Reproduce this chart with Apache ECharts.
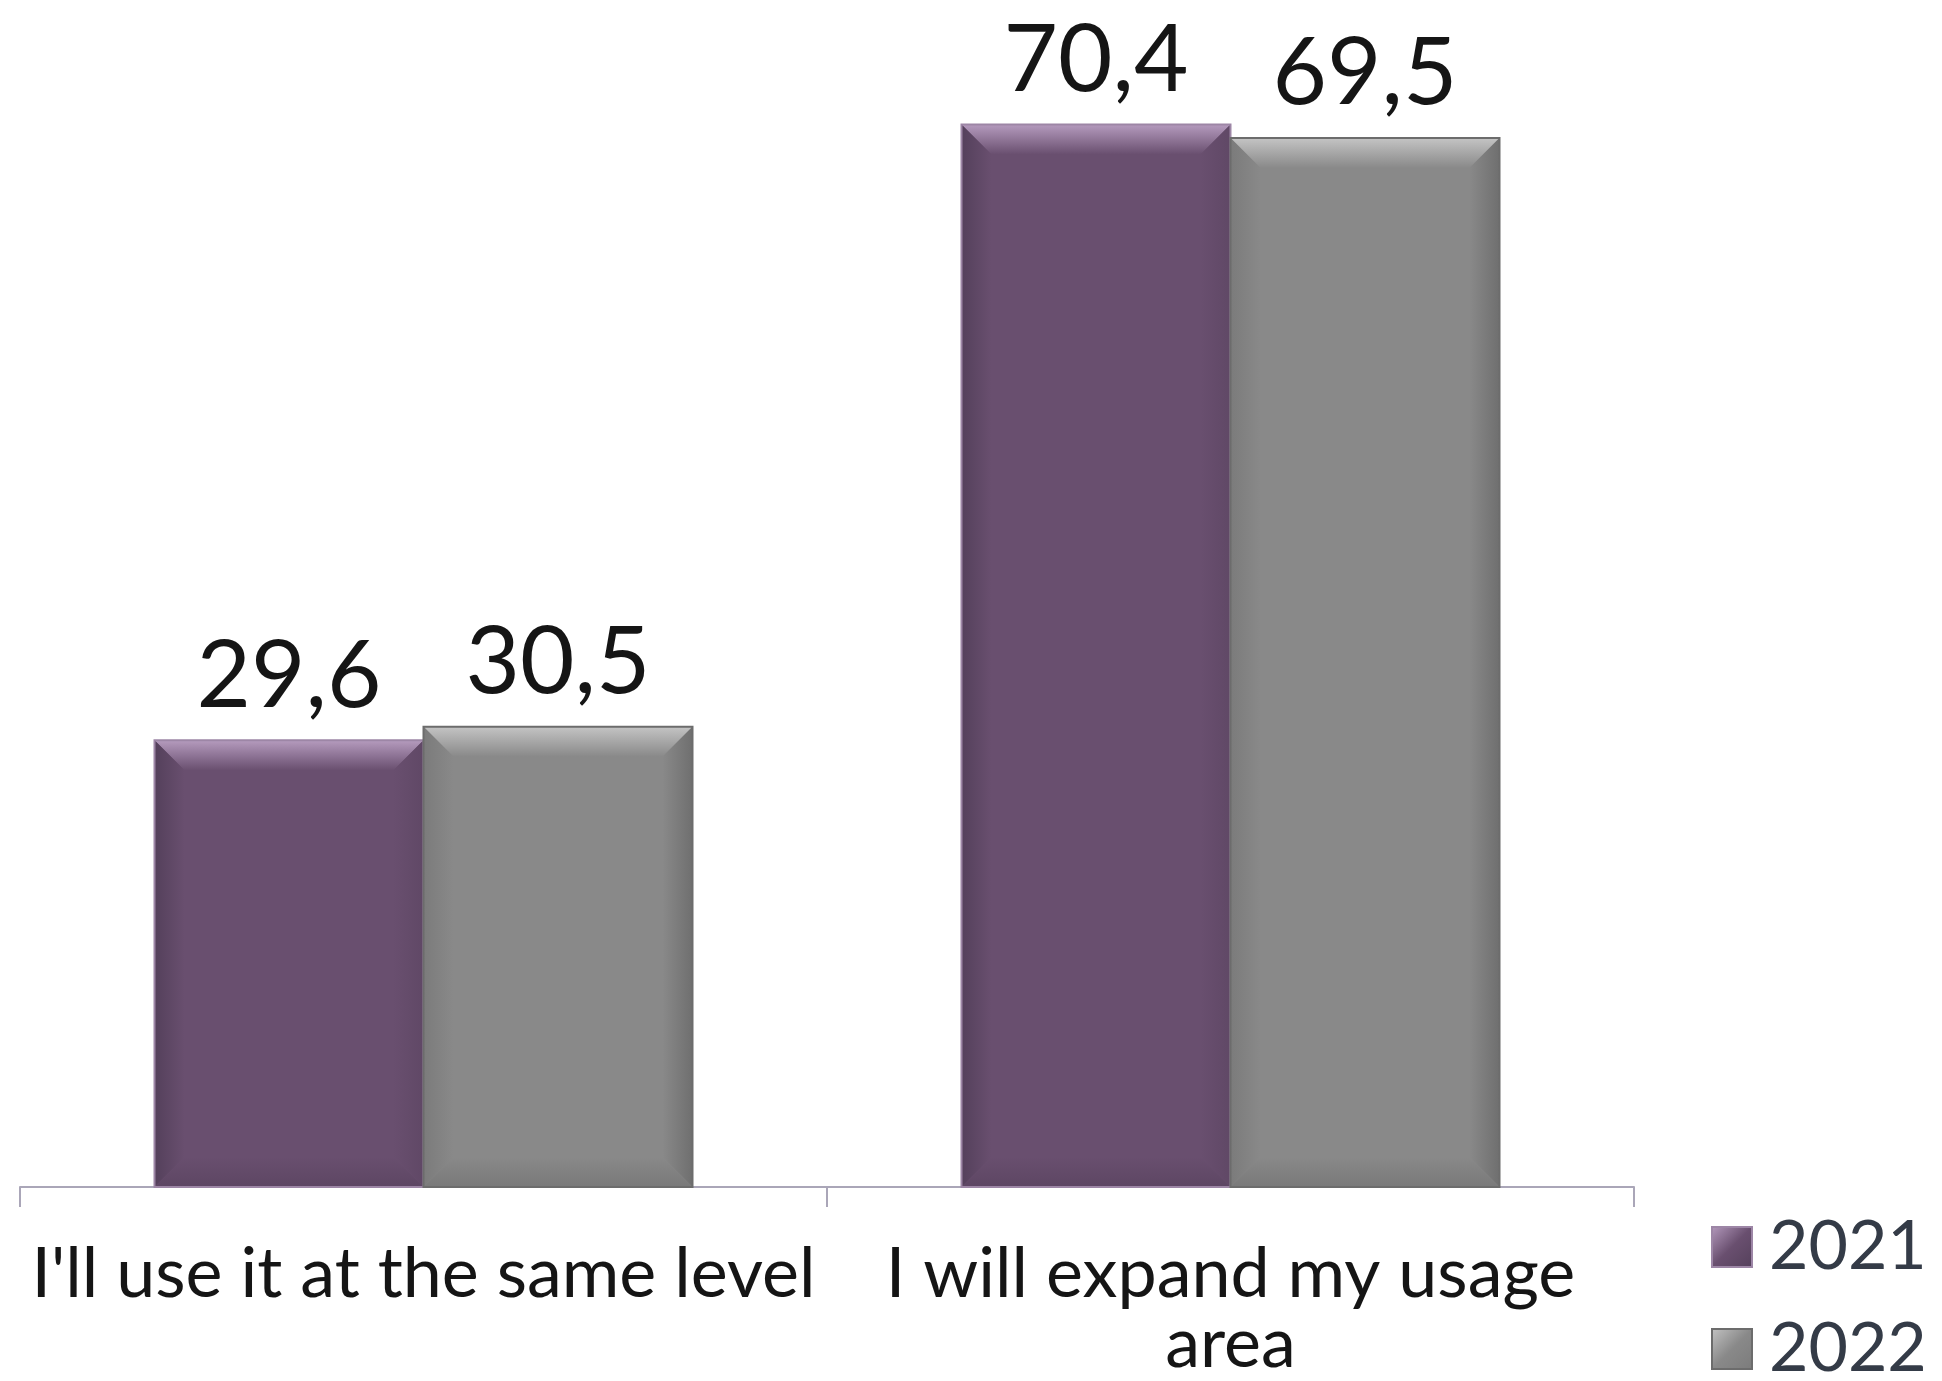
<!DOCTYPE html>
<html>
<head>
<meta charset="utf-8">
<title>Usage plans 2021 vs 2022</title>
<script src="https://cdn.jsdelivr.net/npm/echarts@6/dist/echarts.min.js"></script>
<style>
  html, body { margin: 0; padding: 0; background: #ffffff; }
  #chart { width: 1942px; height: 1381px; }
</style>
</head>
<body>
<div id="chart"></div>
<script>
// Answer categories (second one wraps onto two lines)
const categories = ["I'll use it at the same level", "I will expand my usage\narea"];
const years = ['2021', '2022'];
const values2021 = [29.6, 70.4];
const values2022 = [30.5, 69.5];

// Bevelled bar palette per year
const palette = {
  '2021': { base: '#694f6f', light: '#b59bbe', dark: '#54405b', right: '#604866', bottom: '#5d4663', edge: '#9d86a6' },
  '2022': { base: '#898989', light: '#c4c4c4', dark: '#7b7b7b', right: '#6f6f6f', bottom: '#797979', edge: '#6c6c6c' }
};

const fmt = v => String(v).replace('.', ',');

// Draws one bevelled bar; side = -1 for left bar of the pair, +1 for the right one
function bevelBar(side, colors) {
  return function (params, api) {
    const cat = api.value(0);
    const val = api.value(1);
    const top = api.coord([cat, val]);
    const base = api.coord([cat, 0]);
    const band = api.size([1, 0])[0];
    const w = band / 3;
    const x0 = side < 0 ? top[0] - w : top[0];
    const x1 = x0 + w;
    const y0 = top[1];
    const y1 = base[1];
    const b = Math.min(30, w / 4, (y1 - y0) / 4);
    const poly = (pts, fill) => ({ type: 'polygon', shape: { points: pts }, style: { fill: fill }, silent: true });
    return {
      type: 'group',
      children: [
        { type: 'rect', shape: { x: x0, y: y0, width: w, height: y1 - y0 }, style: { fill: colors.base } },
        poly([[x0, y0], [x1, y0], [x1 - b, y0 + b], [x0 + b, y0 + b]],
          new echarts.graphic.LinearGradient(0, 0, 0, 1, [
            { offset: 0, color: colors.light }, { offset: 1, color: colors.base }])),
        poly([[x0, y0], [x0 + b, y0 + b], [x0 + b, y1 - b], [x0, y1]],
          new echarts.graphic.LinearGradient(0, 0, 1, 0, [
            { offset: 0, color: colors.dark }, { offset: 1, color: colors.base }])),
        poly([[x1, y0], [x1, y1], [x1 - b, y1 - b], [x1 - b, y0 + b]],
          new echarts.graphic.LinearGradient(1, 0, 0, 0, [
            { offset: 0, color: colors.right }, { offset: 1, color: colors.base }])),
        poly([[x0, y1], [x0 + b, y1 - b], [x1 - b, y1 - b], [x1, y1]],
          new echarts.graphic.LinearGradient(0, 1, 0, 0, [
            { offset: 0, color: colors.bottom }, { offset: 1, color: colors.base }])),
        { type: 'rect', shape: { x: x0, y: y0, width: w, height: y1 - y0 },
          style: { fill: 'none', stroke: colors.edge, lineWidth: 2 } },
        { type: 'text', x: (x0 + x1) / 2, y: y0 - 17,
          style: { text: fmt(val), fill: '#151515', fontSize: 94, fontFamily: 'Lato',
                   align: 'center', verticalAlign: 'bottom' } }
      ]
    };
  };
}

const chart = echarts.init(document.getElementById('chart'), null, { renderer: 'canvas' });

chart.setOption({
  animation: false,
  backgroundColor: '#ffffff',
  grid: { left: 20, right: 308, top: 55, bottom: 194, containLabel: false },
  xAxis: {
    type: 'category',
    data: categories,
    axisLine: { lineStyle: { color: '#aaa6b8', width: 2 } },
    axisTick: { show: true, length: 20, lineStyle: { color: '#aaa6b8', width: 2 } },
    axisLabel: { color: '#151515', fontSize: 70, fontFamily: 'Lato', lineHeight: 70, margin: 52, interval: 0 }
  },
  yAxis: { type: 'value', min: 0, max: 75, show: false, splitLine: { show: false } },
  legend: {
    orient: 'vertical',
    left: 1711,
    top: 1213,
    height: 240,
    padding: 0,
    itemWidth: 40,
    itemHeight: 40,
    itemGap: 34,
    icon: 'rect',
    textStyle: { color: '#343b47', fontSize: 68, fontFamily: 'Lato', lineHeight: 50, padding: [0, 0, 0, 12] },
    data: years.map(y => ({
      name: y,
      itemStyle: {
        color: new echarts.graphic.LinearGradient(0, 0, 1, 1, [
          { offset: 0, color: palette[y].light }, { offset: 0.5, color: palette[y].base }, { offset: 1, color: palette[y].dark }]),
        borderColor: palette[y].edge, borderWidth: 2
      }
    }))
  },
  series: [
    { name: '2021', type: 'custom', renderItem: bevelBar(-1, palette['2021']),
      itemStyle: { color: palette['2021'].base },
      encode: { x: 0, y: 1 }, data: values2021.map((v, i) => [i, v]) },
    { name: '2022', type: 'custom', renderItem: bevelBar(1, palette['2022']),
      itemStyle: { color: palette['2022'].base },
      encode: { x: 0, y: 1 }, data: values2022.map((v, i) => [i, v]) }
  ]
});
</script>
</body>
</html>
